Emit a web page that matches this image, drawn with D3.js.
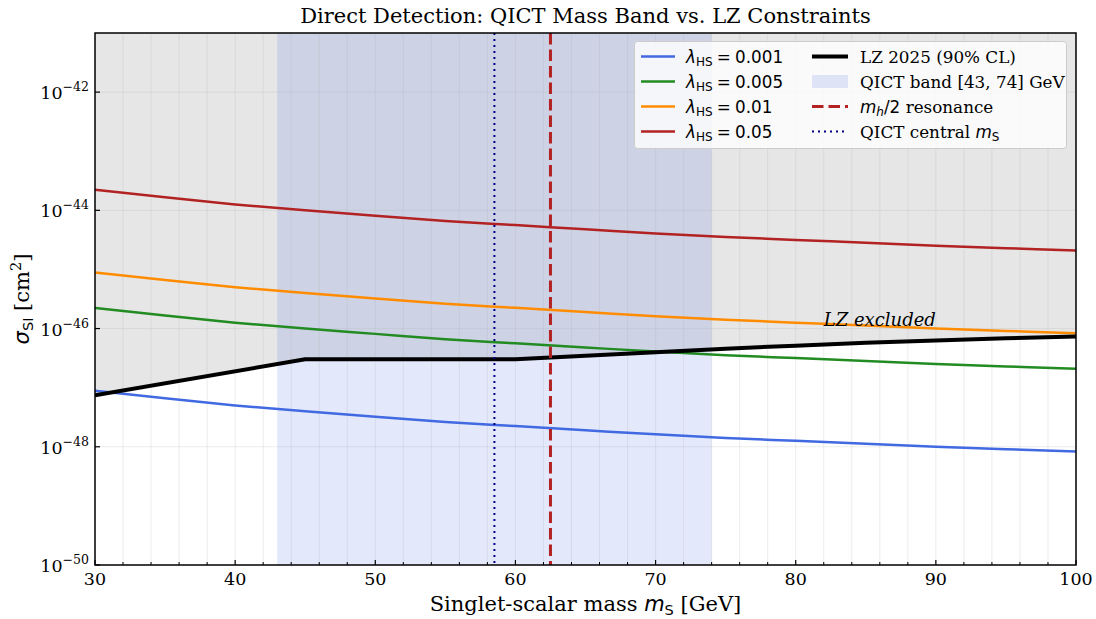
<!DOCTYPE html>
<html>
<head>
<meta charset="utf-8">
<script src="https://cdn.jsdelivr.net/npm/d3@7"></script>
<style>
body { margin: 0; background: #fff; }
text { font-family: "DejaVu Serif", serif; fill: #000; }
.math { font-family: "DejaVu Sans", sans-serif; }
</style>
</head>
<body>
<script>
var width = 1096, height = 619;
var margin = {left: 95, right: 20, top: 33, bottom: 54};

// singlet-scalar mass grid [GeV]
var masses = [30, 35, 40, 45, 50, 55, 60, 65, 70, 75, 80, 85, 90, 95, 100];
// log10 sigma_SI [cm^2]
var sigma_l0001 = [-47.05, -47.18, -47.30, -47.40, -47.49, -47.58, -47.65, -47.72, -47.79, -47.85, -47.90, -47.95, -48.00, -48.04, -48.08];
var sigma_l0005 = [-45.65, -45.78, -45.90, -46.00, -46.09, -46.18, -46.25, -46.32, -46.39, -46.45, -46.50, -46.55, -46.60, -46.64, -46.68];
var sigma_l001  = [-45.05, -45.18, -45.30, -45.40, -45.49, -45.58, -45.65, -45.72, -45.79, -45.85, -45.90, -45.95, -46.00, -46.04, -46.08];
var sigma_l005  = [-43.65, -43.78, -43.90, -44.00, -44.09, -44.18, -44.25, -44.32, -44.39, -44.45, -44.50, -44.55, -44.60, -44.64, -44.68];

var lz_mass  = [30, 45, 60, 65, 70, 75, 80, 85, 90, 95, 100];
var lz_limit = [-47.13, -46.52, -46.52, -46.46, -46.40, -46.34, -46.29, -46.24, -46.20, -46.165, -46.135];

var qict_band = [43, 74];
var mh_half = 62.5;
var qict_central = 58.5;

var lambdas = ["0.001", "0.005", "0.01", "0.05"];
var series = [sigma_l0001, sigma_l0005, sigma_l001, sigma_l005];
var colors = ["royalblue", "forestgreen", "darkorange", "firebrick"];

var yTickExp = [-50, -48, -46, -44, -42];

var svg = d3.select("body").append("svg")
    .attr("width", width)
    .attr("height", height);

var x = d3.scaleLinear().domain([30, 100]).range([margin.left, width - margin.right]);
var y = d3.scaleLog().domain([1e-50, 1e-41]).range([height - margin.bottom, margin.top]);

var x0 = x.range()[0], x1 = x.range()[1], yb = y.range()[0], yt = y.range()[1];

svg.append("defs").append("clipPath").attr("id", "clip")
    .append("rect").attr("x", x0).attr("y", yt).attr("width", x1 - x0).attr("height", yb - yt);

var plot = svg.append("g").attr("clip-path", "url(#clip)");

// LZ excluded region
var lzPts = lz_mass.map(function (m, i) { return [m, Math.pow(10, lz_limit[i])]; });
plot.append("path")
    .datum(lzPts)
    .attr("d", d3.area().x(function (d) { return x(d[0]); }).y0(yt).y1(function (d) { return y(d[1]); }))
    .attr("fill", "gray").attr("fill-opacity", 0.2);

// QICT band
plot.append("rect")
    .attr("x", x(qict_band[0])).attr("width", x(qict_band[1]) - x(qict_band[0]))
    .attr("y", yt).attr("height", yb - yt)
    .attr("fill", "royalblue").attr("fill-opacity", 0.15);

// grid
var xMinor = d3.range(30, 101, 2);
plot.selectAll(".gx").data(xMinor).enter().append("line")
    .attr("x1", function (d) { return x(d); }).attr("x2", function (d) { return x(d); })
    .attr("y1", yt).attr("y2", yb)
    .attr("stroke", "#b0b0b0").attr("stroke-opacity", 0.3).attr("stroke-width", 0.8);
plot.selectAll(".gy").data(yTickExp).enter().append("line")
    .attr("x1", x0).attr("x2", x1)
    .attr("y1", function (d) { return y(Math.pow(10, d)); }).attr("y2", function (d) { return y(Math.pow(10, d)); })
    .attr("stroke", "#b0b0b0").attr("stroke-opacity", 0.3).attr("stroke-width", 0.8);

// cross-section curves
var line = d3.line()
    .x(function (d) { return x(d[0]); })
    .y(function (d) { return y(d[1]); })
    .curve(d3.curveMonotoneX);

series.forEach(function (s, i) {
    plot.append("path")
        .datum(masses.map(function (m, j) { return [m, Math.pow(10, s[j])]; }))
        .attr("d", line)
        .attr("fill", "none").attr("stroke", colors[i]).attr("stroke-width", 2.5);
});

// LZ limit
plot.append("path")
    .datum(lzPts)
    .attr("d", d3.line().x(function (d) { return x(d[0]); }).y(function (d) { return y(d[1]); }))
    .attr("fill", "none").attr("stroke", "#000").attr("stroke-width", 4)
    .attr("stroke-linejoin", "round");

// vertical markers
plot.append("line")
    .attr("x1", x(mh_half)).attr("x2", x(mh_half)).attr("y1", yt).attr("y2", yb)
    .attr("stroke", "firebrick").attr("stroke-width", 3).attr("stroke-dasharray", "11.5,5");
plot.append("line")
    .attr("x1", x(qict_central)).attr("x2", x(qict_central)).attr("y1", yt).attr("y2", yb)
    .attr("stroke", "navy").attr("stroke-width", 2).attr("stroke-dasharray", "2,4");

// LZ excluded label
svg.append("text")
    .attr("x", x(82)).attr("y", y(Math.pow(10, -45.95)))
    .attr("font-size", 18).attr("font-style", "italic")
    .text("LZ excluded");

// axes frame
svg.append("rect")
    .attr("x", x0).attr("y", yt).attr("width", x1 - x0).attr("height", yb - yt)
    .attr("fill", "none").attr("stroke", "#000").attr("stroke-width", 1.5);

// x ticks (inward)
var xAxis = svg.append("g");
xAxis.selectAll(".mn").data(xMinor.filter(function (d) { return d % 10 !== 0; })).enter().append("line")
    .attr("x1", function (d) { return x(d); }).attr("x2", function (d) { return x(d); })
    .attr("y1", yb).attr("y2", yb - 3).attr("stroke", "#000").attr("stroke-width", 1);
var xMajor = d3.range(30, 101, 10);
xAxis.selectAll(".mj").data(xMajor).enter().append("line")
    .attr("x1", function (d) { return x(d); }).attr("x2", function (d) { return x(d); })
    .attr("y1", yb).attr("y2", yb - 5).attr("stroke", "#000").attr("stroke-width", 1.2);
xAxis.selectAll(".lb").data(xMajor).enter().append("text")
    .attr("x", function (d) { return x(d); }).attr("y", yb + 20)
    .attr("text-anchor", "middle").attr("font-size", 17.5)
    .text(function (d) { return d; });

// y ticks
var yAxis = svg.append("g");
yAxis.selectAll("line").data(yTickExp).enter().append("line")
    .attr("x1", x0).attr("x2", x0 + 5)
    .attr("y1", function (d) { return y(Math.pow(10, d)); }).attr("y2", function (d) { return y(Math.pow(10, d)); })
    .attr("stroke", "#000").attr("stroke-width", 1.2);
var yl = yAxis.selectAll("text").data(yTickExp).enter().append("text")
    .attr("x", x0 - 6).attr("y", function (d) { return y(Math.pow(10, d)) + 7; })
    .attr("text-anchor", "end").attr("font-size", 17.5);
yl.append("tspan").text("10");
yl.append("tspan").attr("dy", -8).attr("font-size", 12.5).text(function (d) { return "\u2212" + Math.abs(d); });

// title and axis labels
svg.append("text")
    .attr("x", (x0 + x1) / 2).attr("y", 23)
    .attr("text-anchor", "middle").attr("font-size", 21)
    .text("Direct Detection: QICT Mass Band vs. LZ Constraints");

var xl = svg.append("text")
    .attr("x", (x0 + x1) / 2).attr("y", 611)
    .attr("text-anchor", "middle").attr("font-size", 21);
xl.append("tspan").text("Singlet-scalar mass ");
xl.append("tspan").attr("class", "math").attr("font-style", "italic").text("m");
xl.append("tspan").attr("class", "math").attr("font-size", 14.5).attr("dy", 4).text("S");
xl.append("tspan").attr("dy", -4).text(" [GeV]");

var ylab = svg.append("text")
    .attr("transform", "translate(29," + ((yt + yb) / 2) + ") rotate(-90)")
    .attr("text-anchor", "middle").attr("font-size", 21);
ylab.append("tspan").attr("class", "math").attr("font-style", "italic").text("\u03c3");
ylab.append("tspan").attr("class", "math").attr("font-size", 14.5).attr("dy", 4).text("SI");
ylab.append("tspan").attr("dy", -4).text(" [cm");
ylab.append("tspan").attr("font-size", 14.5).attr("dy", -8).text("2");
ylab.append("tspan").attr("dy", 8).text("]");

// legend
var lfs = 16.8;
var lg = svg.append("g");
lg.append("rect")
    .attr("x", 634.5).attr("y", 41.5).attr("width", 432).attr("height", 107).attr("rx", 3)
    .attr("fill", "#fff").attr("fill-opacity", 0.8).attr("stroke", "#cccccc").attr("stroke-width", 1);

var rowY = [56.5, 81.5, 106.5, 131.5];
lambdas.forEach(function (l, i) {
    lg.append("line").attr("x1", 641).attr("x2", 675).attr("y1", rowY[i]).attr("y2", rowY[i])
        .attr("stroke", colors[i]).attr("stroke-width", 2.5);
    var t = lg.append("text").attr("class", "math").attr("x", 686).attr("y", rowY[i] + 6).attr("font-size", lfs);
    t.append("tspan").attr("font-style", "italic").text("\u03bb");
    t.append("tspan").attr("font-size", 12).attr("dy", 3.5).text("HS");
    t.append("tspan").attr("dy", -3.5).text("\u2005=\u2005" + l);
});

lg.append("line").attr("x1", 812).attr("x2", 848).attr("y1", rowY[0]).attr("y2", rowY[0])
    .attr("stroke", "#000").attr("stroke-width", 4);
lg.append("text").attr("x", 860).attr("y", rowY[0] + 6).attr("font-size", lfs).text("LZ 2025 (90% CL)");

lg.append("rect").attr("x", 812).attr("y", rowY[1] - 6.5).attr("width", 36).attr("height", 13)
    .attr("fill", "royalblue").attr("fill-opacity", 0.15);
lg.append("text").attr("x", 860).attr("y", rowY[1] + 6).attr("font-size", lfs).text("QICT band [43, 74] GeV");

lg.append("line").attr("x1", 812).attr("x2", 848).attr("y1", rowY[2]).attr("y2", rowY[2])
    .attr("stroke", "firebrick").attr("stroke-width", 3).attr("stroke-dasharray", "11.5,5");
var t3 = lg.append("text").attr("x", 860).attr("y", rowY[2] + 6).attr("font-size", lfs);
t3.append("tspan").attr("class", "math").attr("font-style", "italic").text("m");
t3.append("tspan").attr("class", "math").attr("font-style", "italic").attr("font-size", 12).attr("dy", 3.5).text("h");
t3.append("tspan").attr("class", "math").attr("dy", -3.5).text("/2");
t3.append("tspan").text(" resonance");

lg.append("line").attr("x1", 812).attr("x2", 848).attr("y1", rowY[3]).attr("y2", rowY[3])
    .attr("stroke", "navy").attr("stroke-width", 2).attr("stroke-dasharray", "2,4");
var t4 = lg.append("text").attr("x", 860).attr("y", rowY[3] + 6).attr("font-size", lfs);
t4.append("tspan").text("QICT central ");
t4.append("tspan").attr("class", "math").attr("font-style", "italic").text("m");
t4.append("tspan").attr("class", "math").attr("font-size", 12).attr("dy", 3.5).text("S");
</script>
</body>
</html>
